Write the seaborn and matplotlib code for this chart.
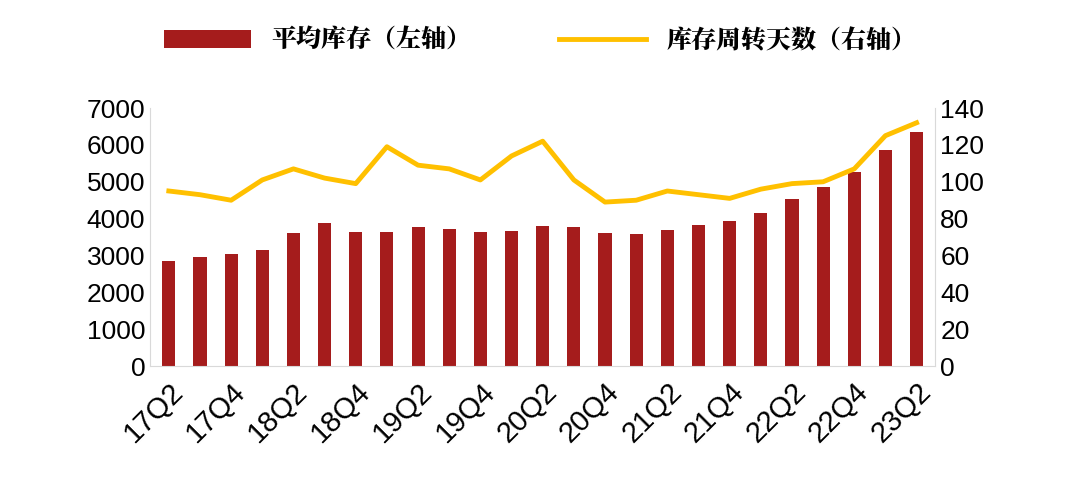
import matplotlib
matplotlib.use("Agg")
import matplotlib.pyplot as plt
from matplotlib import font_manager as fm
import seaborn as sns
import pandas as pd

quarters = []
for y in range(17, 24):
    for q in range(1, 5):
        if (y == 17 and q < 2) or (y == 23 and q > 2):
            continue
        quarters.append(f"{y}Q{q}")
inventory = [2850, 2950, 3050, 3150, 3600, 3870, 3650, 3650, 3770, 3730, 3650, 3660, 3800,
             3780, 3620, 3580, 3700, 3840, 3930, 4150, 4520, 4870, 5270, 5850, 6350]
turnover_days = [95, 93, 90, 101, 107, 102, 99, 119, 109, 107, 101, 114, 122,
                 101, 89, 90, 95, 93, 91, 96, 99, 100, 107, 125, 132]

cjk_path = None
for f in fm.fontManager.ttflist:
    if "CJK" in f.name and "SC" in f.name:
        cjk_path = f.fname; break
if cjk_path is None:
    for f in fm.findSystemFonts():
        if "CJK" in f:
            cjk_path = f; break
cjk_prop = fm.FontProperties(fname=cjk_path, size=18) if cjk_path else fm.FontProperties(size=18)

plt.rcParams["font.family"] = "sans-serif"
plt.rcParams["font.sans-serif"] = ["Liberation Sans", "DejaVu Sans"]
df = pd.DataFrame({"q": quarters, "inv": inventory, "days": turnover_days, "x": range(len(quarters))})

fig, ax = plt.subplots(figsize=(10.8, 4.8), dpi=100)
fig.subplots_adjust(left=0.139, right=0.866, top=0.775, bottom=0.237)
sns.barplot(data=df, x="x", y="inv", color="#A51C1C", width=0.42, ax=ax, saturation=1, label="平均库存（左轴）")
ax2 = ax.twinx()
sns.lineplot(data=df, x="x", y="days", color="#FFC000", linewidth=3.5, ax=ax2, label="库存周转天数（右轴）", legend=False)
ax.set_ylim(0, 7000)
ax2.set_ylim(0, 140)
ax.set_yticks(range(0, 7001, 1000))
ax2.set_yticks(range(0, 141, 20))
ax.set_xlim(-0.6, len(quarters) - 0.4)
ax.set_xticks(range(0, len(quarters), 2))
ax.set_xticklabels(quarters[::2], rotation=45, ha="right", rotation_mode="anchor")
for a in (ax, ax2):
    a.tick_params(labelsize=19, length=0)
    a.set_xlabel(""); a.set_ylabel("")
    for s in ["top", "right", "left", "bottom"]:
        a.spines[s].set_visible(False)
ax.tick_params(axis="x", labelsize=21, pad=8)
ax.spines["bottom"].set_visible(True); ax.spines["bottom"].set_color("#D9D9D9")
ax.spines["left"].set_visible(True); ax.spines["left"].set_color("#D9D9D9")
ax2.spines["right"].set_visible(True); ax2.spines["right"].set_color("#D9D9D9")
h1, l1 = ax.get_legend_handles_labels()
h2, l2 = ax2.get_legend_handles_labels()
if ax.get_legend(): ax.get_legend().remove()
fig.legend(h1 + h2, l1 + l2, loc="upper center", bbox_to_anchor=(0.5, 0.99), ncol=2, frameon=False,
           prop=cjk_prop, handlelength=3.5, columnspacing=3.5)
fig.savefig("out.png", dpi=100)
